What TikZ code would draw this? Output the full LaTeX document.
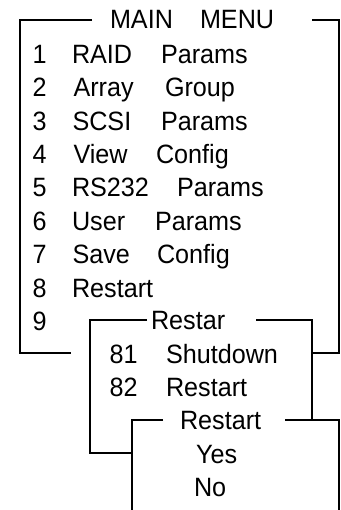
\documentclass[tikz,border=0pt]{standalone}
\usepackage{fontspec}
\setmainfont{Liberation Sans}
\newfontfamily\reffont[FakeStretch=0.95]{Liberation Sans}
\begin{document}
\begin{tikzpicture}[x=1pt,y=-1pt]
\tikzset{
  lbl/.style={anchor=base west, inner sep=0pt, outer sep=0pt, font=\reffont\fontsize{26.5}{30}\selectfont},
  frame/.style={line width=1.2pt, line join=miter, line cap=butt}
}
\useasboundingbox (0,0) rectangle (340,510);
% main menu frame
\draw[frame] (92,20) -- (20,20) -- (20,353) -- (71,353);
\draw[frame] (312,20) -- (339,20) -- (339,353);
\draw[frame] (312,353) -- (340,353);
% Restar frame
\draw[frame] (147,320) -- (90,320) -- (90,453) -- (132,453);
\draw[frame] (256,320) -- (312,320) -- (312,421);
% Restart frame
\draw[frame] (163,420) -- (132,420) -- (132,510);
\draw[frame] (285,420) -- (340,420);
\draw[frame] (339,420) -- (339,510);
% titles
\node[lbl] (tmain) at (110,28.5) {MAIN};
\node[lbl] (tmenu) at (200,28.5) {MENU};
% menu items
\node[lbl] (d1) at (32.5,63.3) {1};
\node[lbl] (w1a) at (72,63.3) {RAID};
\node[lbl] (w1b) at (161,63.3) {Params};
\node[lbl] (d2) at (32.5,96.7) {2};
\node[lbl] (w2a) at (73.5,96.7) {Array};
\node[lbl] (w2b) at (165,96.7) {Group};
\node[lbl] (d3) at (32.5,130.1) {3};
\node[lbl] (w3a) at (72.5,130.1) {SCSI};
\node[lbl] (w3b) at (161,130.1) {Params};
\node[lbl] (d4) at (32.5,163.5) {4};
\node[lbl] (w4a) at (73.5,163.5) {View};
\node[lbl] (w4b) at (156,163.5) {Config};
\node[lbl] (d5) at (32.5,196.9) {5};
\node[lbl] (w5a) at (72,196.9) {RS232};
\node[lbl] (w5b) at (177,196.9) {Params};
\node[lbl] (d6) at (32.5,230.3) {6};
\node[lbl] (w6a) at (72,230.3) {User};
\node[lbl] (w6b) at (155,230.3) {Params};
\node[lbl] (d7) at (32.5,263.7) {7};
\node[lbl] (w7a) at (72.5,263.7) {Save};
\node[lbl] (w7b) at (157,263.7) {Config};
\node[lbl] (d8) at (32.5,297.1) {8};
\node[lbl] (w8a) at (72,297.1) {Restart};
\node[lbl] (d9) at (32.5,330.3) {9};
% Restar submenu
\node[lbl] (trestar) at (151,329.7) {Restar};
\node[lbl] (d81) at (109.7,363.3) {81};
\node[lbl] (w81) at (166,363.3) {Shutdown};
\node[lbl] (d82) at (109.7,396.7) {82};
\node[lbl] (w82) at (166,396.7) {Restart};
% Restart confirm
\node[lbl] (trestart) at (180,429.3) {Restart};
\node[lbl] (yes) at (196,463.3) {Yes};
\node[lbl] (no) at (194,496.7) {No};
\end{tikzpicture}
\end{document}
